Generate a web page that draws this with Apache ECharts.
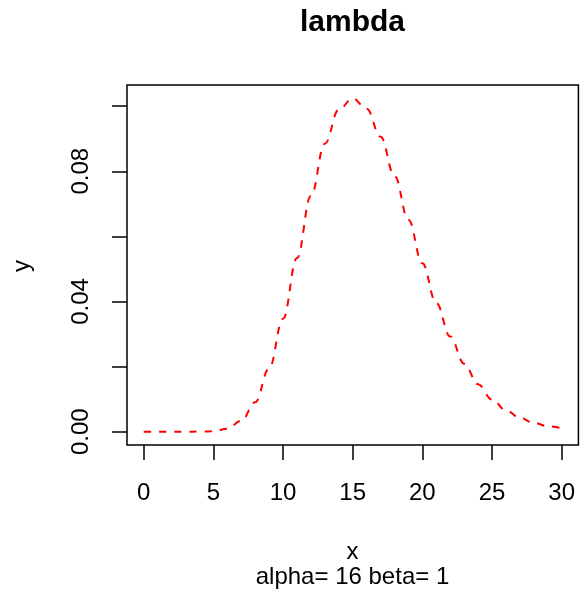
<!DOCTYPE html>
<html>
<head>
<meta charset="utf-8">
<script src="https://cdn.jsdelivr.net/npm/echarts@6/dist/echarts.min.js"></script>
<style>
html,body{margin:0;padding:0;background:#fff;}
#chart{width:587px;height:596px;}
</style>
</head>
<body>
<div id="chart"></div>
<script>
// Data (gamma density, alpha=16, beta=1)
var xValues = [0,1,2,3,4,5,6,7,8,9,10,11,12,13,14,15,16,17,18,19,20,21,22,23,24,25,26,27,28,29,30];
var yValues = [0,0,0.0000000034,0.00000055,0.000015,0.000157,0.00089,0.00331,0.00903,0.01943,0.03472,0.05332,0.07239,0.08847,0.0989,0.1024,0.0992,0.0906,0.0786,0.0651,0.0517,0.0395,0.0292,0.0209,0.0146,0.00989,0.00655,0.00425,0.0027,0.00168,0.00103];
var xTicks = [0,5,10,15,20,25,30];
var yTicks = [0,0.02,0.04,0.06,0.08,0.10];
var yTickLabels = [0,0.04,0.08];
var titleText = 'lambda';
var xName = 'x';
var yName = 'y';
var subText = 'alpha= 16 beta= 1';

var FONT = '"Liberation Sans", Arial, Helvetica, sans-serif';
var pts = xValues.map(function(x,i){return [x, yValues[i]];});
var yMax = 0.1024, ext = yMax*0.04;

var chart = echarts.init(document.getElementById('chart'), null, {renderer:'canvas'});
chart.setOption({
  animation:false,
  backgroundColor:'#ffffff',
  grid:{left:127, top:85, width:451.4, height:360, show:true, borderColor:'#000', borderWidth:1.5, backgroundColor:'transparent'},
  xAxis:{
    type:'value', min:-1.2, max:31.2, position:'bottom',
    axisLine:{show:false, onZero:false},
    splitLine:{show:false},
    axisTick:{show:true, inside:false, customValues:xTicks, length:15, lineStyle:{color:'#000', width:1.5}},
    axisLabel:{show:true, customValues:xTicks, margin:36, color:'#000', fontSize:24, fontFamily:FONT}
  },
  yAxis:{
    type:'value', min:-ext, max:yMax+ext, position:'left',
    axisLine:{show:false, onZero:false},
    splitLine:{show:false},
    axisTick:{show:true, inside:false, customValues:yTicks, length:15, lineStyle:{color:'#000', width:1.5}},
    axisLabel:{show:true, customValues:yTickLabels, rotate:90, margin:34, color:'#000', fontSize:24, fontFamily:FONT,
      formatter:function(v){return (+v).toFixed(2);}}
  },
  series:[{
    type:'line', data:pts, showSymbol:false, smooth:0.4, smoothMonotone:'x',
    lineStyle:{color:'#ff0000', width:2, type:[7.5,7.7]}
  }],
  graphic:[
    {type:'text', style:{text:titleText, x:352.5, y:23, align:'center', verticalAlign:'middle', fill:'#000', font:'bold 30px '+FONT}},
    {type:'text', style:{text:xName, x:352.5, y:552, align:'center', verticalAlign:'middle', fill:'#000', font:'24px '+FONT}},
    {type:'text', style:{text:subText, x:352.5, y:577, align:'center', verticalAlign:'middle', fill:'#000', font:'24px '+FONT}},
    {type:'text', rotation:Math.PI/2, x:22, y:266, style:{text:yName, x:0, y:0, align:'center', verticalAlign:'middle', fill:'#000', font:'24px '+FONT}}
  ]
});
</script>
</body>
</html>
